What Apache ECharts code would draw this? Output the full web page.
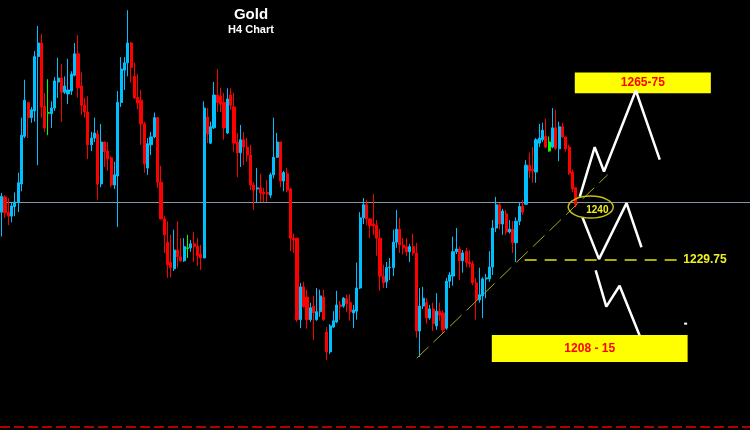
<!DOCTYPE html>
<html><head><meta charset="utf-8">
<script src="https://cdn.jsdelivr.net/npm/echarts@6/dist/echarts.min.js"></script>
<style>html,body{margin:0;padding:0;background:#000}#c{width:750px;height:430px}</style>
</head><body><div id="c"></div>
<script>
// H4 candles (price, USD/oz)
const opens = [1238.2,1240.9,1238.2,1237.5,1239.2,1240.0,1243.2,1251.6,1257.6,1254.9,1256.1,1265.7,1268.1,1256.9,1255.8,1255.6,1256.6,1261.2,1261.9,1259.4,1259.1,1259.6,1262.4,1266.2,1260.5,1257.1,1255.9,1250.1,1251.3,1252.0,1243.2,1250.6,1249.0,1247.8,1243.0,1244.6,1257.6,1263.3,1264.6,1268.1,1262.2,1258.5,1258.0,1253.8,1246.0,1250.1,1251.5,1254.9,1243.5,1237.0,1232.9,1229.3,1228.2,1231.5,1230.3,1229.6,1231.9,1231.9,1232.6,1232.2,1230.8,1230.1,1255.0,1250.4,1253.1,1258.9,1258.7,1257.6,1252.2,1258.9,1256.8,1250.6,1248.7,1251.0,1249.7,1248.3,1243.0,1242.3,1242.5,1241.7,1241.7,1241.2,1244.8,1247.9,1250.6,1243.7,1245.0,1242.3,1233.6,1233.6,1219.2,1225.0,1223.2,1219.2,1221.6,1219.2,1220.6,1223.2,1217.0,1213.5,1217.9,1218.8,1221.8,1221.6,1222.9,1222.2,1220.4,1220.7,1224.8,1237.2,1239.5,1237.0,1236.1,1235.9,1233.6,1226.9,1225.9,1228.4,1228.4,1232.9,1235.2,1232.4,1232.1,1231.2,1232.1,1231.0,1217.2,1221.6,1222.2,1219.5,1221.1,1218.1,1220.7,1220.4,1217.7,1226.0,1226.9,1231.2,1231.7,1229.6,1231.3,1229.4,1229.1,1225.7,1222.7,1223.4,1226.4,1226.4,1228.5,1235.4,1239.5,1236.1,1237.9,1234.7,1235.2,1232.8,1236.6,1239.2,1239.6,1246.5,1245.8,1245.3,1250.4,1251.0,1251.6,1250.6,1249.7,1253.1,1249.4,1253.3,1251.5,1249.7,1245.3,1242.5];
const closes = [1241.0,1238.1,1237.5,1239.3,1240.0,1243.4,1251.8,1258.0,1254.9,1256.3,1265.7,1268.1,1256.8,1253.1,1255.7,1256.6,1261.4,1261.9,1259.4,1260.5,1259.8,1262.6,1266.2,1260.2,1257.1,1255.9,1250.1,1251.3,1252.2,1243.2,1250.6,1248.9,1247.6,1243.0,1244.8,1257.6,1263.5,1264.6,1268.1,1263.8,1258.4,1257.5,1253.8,1246.7,1250.3,1251.5,1254.9,1243.5,1237.0,1234.2,1228.9,1228.4,1231.5,1230.3,1229.6,1232.1,1231.8,1232.6,1232.1,1230.5,1230.1,1256.6,1252.0,1253.3,1258.9,1257.6,1257.3,1253.1,1258.2,1257.1,1250.4,1248.7,1251.0,1249.7,1248.3,1243.0,1242.1,1242.5,1241.6,1241.4,1241.4,1244.8,1247.9,1250.6,1243.7,1245.2,1242.1,1233.6,1233.3,1219.2,1225.0,1221.5,1219.2,1221.3,1220.4,1220.6,1223.4,1219.2,1213.5,1218.1,1219.0,1221.8,1221.5,1223.0,1222.0,1220.6,1220.9,1224.8,1237.2,1239.5,1237.0,1235.8,1235.8,1233.6,1226.9,1225.7,1228.4,1228.5,1232.9,1235.2,1232.4,1231.9,1231.2,1232.1,1231.0,1217.2,1221.6,1223.0,1219.5,1221.1,1218.5,1220.7,1220.0,1217.4,1226.0,1227.1,1231.2,1231.7,1229.6,1231.0,1229.3,1229.1,1225.7,1222.7,1223.6,1226.4,1226.6,1228.5,1235.4,1239.5,1236.1,1238.4,1234.7,1235.2,1232.8,1236.6,1239.2,1238.2,1246.5,1245.5,1245.5,1251.0,1251.3,1252.7,1249.7,1249.0,1253.1,1249.5,1253.3,1251.5,1249.4,1245.1,1242.3,1239.6];
const lows = [1233.9,1237.2,1235.9,1236.4,1237.5,1238.2,1241.9,1251.3,1251.3,1254.0,1254.2,1246.5,1254.9,1252.4,1251.8,1253.1,1256.1,1258.4,1254.2,1259.1,1257.3,1258.9,1262.2,1258.5,1255.4,1254.9,1247.6,1249.0,1250.6,1240.4,1242.6,1246.2,1245.5,1242.6,1242.3,1235.6,1256.8,1259.8,1262.2,1261.1,1258.2,1256.4,1250.1,1245.2,1244.8,1248.3,1251.3,1242.5,1237.0,1231.0,1226.6,1226.7,1227.8,1228.4,1229.4,1229.4,1230.1,1231.2,1229.4,1228.7,1228.0,1230.1,1250.4,1250.3,1252.9,1255.9,1255.9,1251.0,1252.0,1256.3,1248.9,1244.4,1246.2,1246.5,1247.1,1242.1,1238.6,1239.8,1240.0,1240.0,1240.0,1240.7,1244.2,1247.8,1242.6,1241.9,1241.7,1231.3,1231.0,1218.8,1217.7,1221.3,1217.6,1218.8,1215.6,1219.0,1219.7,1219.0,1212.1,1213.1,1217.7,1218.6,1219.2,1221.3,1220.6,1219.0,1217.7,1219.2,1224.6,1236.1,1235.9,1233.6,1234.2,1230.5,1224.3,1224.8,1224.8,1226.2,1226.9,1231.9,1231.0,1230.7,1230.5,1229.4,1230.5,1216.0,1212.6,1221.1,1218.5,1219.2,1217.2,1217.4,1219.0,1216.9,1217.4,1224.8,1225.2,1230.8,1226.2,1227.5,1228.5,1228.4,1225.3,1219.2,1222.2,1219.5,1223.0,1225.9,1227.1,1234.7,1235.1,1234.2,1234.2,1234.4,1231.0,1229.4,1235.9,1237.7,1239.5,1244.2,1243.4,1243.4,1249.7,1250.6,1249.5,1248.9,1249.5,1249.2,1247.2,1251.3,1248.9,1244.8,1241.7,1239.1];
const highs = [1241.6,1241.2,1240.7,1240.0,1241.7,1245.2,1254.9,1261.6,1257.6,1256.8,1266.7,1271.1,1269.7,1259.3,1261.7,1257.8,1262.1,1265.5,1264.4,1262.2,1265.3,1263.1,1268.1,1269.5,1262.9,1258.4,1258.7,1252.4,1254.9,1252.7,1253.8,1250.6,1250.6,1248.1,1247.1,1259.6,1265.6,1265.6,1273.9,1268.3,1264.7,1262.6,1259.8,1254.2,1251.3,1252.4,1255.8,1254.9,1246.4,1237.5,1236.6,1234.2,1235.1,1236.6,1233.6,1233.6,1234.2,1233.3,1234.7,1233.6,1232.4,1257.8,1256.6,1254.2,1261.2,1263.5,1260.2,1259.3,1260.1,1260.1,1259.3,1252.2,1253.6,1252.4,1251.3,1250.1,1243.5,1246.0,1245.0,1242.5,1243.9,1245.2,1254.9,1252.2,1250.6,1245.5,1246.0,1242.5,1234.4,1233.6,1225.7,1225.9,1224.5,1222.2,1223.4,1224.8,1224.5,1224.5,1217.9,1218.4,1220.7,1224.3,1222.5,1223.2,1223.6,1223.7,1221.8,1229.3,1238.2,1240.7,1240.4,1237.2,1241.4,1236.8,1235.2,1228.9,1229.4,1230.1,1235.1,1238.6,1237.2,1233.6,1233.6,1232.6,1234.4,1232.8,1224.8,1225.0,1223.0,1221.8,1222.2,1223.9,1222.2,1220.9,1226.6,1227.6,1233.9,1235.4,1232.1,1231.5,1231.9,1231.5,1229.6,1226.6,1228.4,1226.7,1227.3,1231.3,1236.8,1240.9,1239.8,1238.8,1238.6,1236.8,1236.6,1237.3,1240.0,1240.4,1247.4,1248.7,1249.7,1251.3,1253.8,1254.0,1254.7,1251.6,1256.6,1256.3,1254.2,1254.0,1251.5,1250.1,1245.7,1242.6];
const dojiIdx = [14, 56, 165];           // green (unchanged) bars
const slotCount = 226;                   // bar slots across the chart width
const categories = Array.from({length: slotCount}, (_, i) => 'B' + i);

// Levels / annotations
const pivotLevel = 1240;
const supportLevel = 1229.75;
const floorLevel = 1200.2;
const upperPath = [[174.2,1240.9],[178.7,1249.7],[181.5,1245.4],[191.1,1259.7],[198.3,1247.5]];
const middlePath = [[175.0,1237.3],[180.0,1229.9],[188.3,1239.8],[192.8,1232.0]];
const lowerPath = [[179.0,1227.9],[182.2,1221.5],[186.2,1225.2],[192.3,1216.3]];
const trendPath = [[125.1,1212.4],[182.6,1244.8]];
const supportSpan = [157.6, 203.7];
const targetUp = {label:'1265-75', x:[172.7,213.7], y:[1262.9,1259.2]};
const targetDown = {label:'1208 - 15', x:[147.7,206.7], y:[1216.5,1211.7]};

const candles = opens.map((o, i) => {
  const v = [o, closes[i], lows[i], highs[i]];
  if (dojiIdx.includes(i)) {
    return {value: v, itemStyle: {color:'#00ff00', color0:'#00ff00', borderColor:'#00ff00', borderColor0:'#00ff00'}};
  }
  return v;
});

const FONT = 'Liberation Sans, Arial, sans-serif';
const chart = echarts.init(document.getElementById('c'), null, {renderer:'canvas'});
const boxLabel = {show:true, position:'inside', color:'#ff0000', fontWeight:'bold', fontSize:12, fontFamily:FONT};
chart.setOption({
  backgroundColor:'#000000',
  animation:false,
  title:{text:'Gold', subtext:'H4 Chart', left:246, top:2, textAlign:'center', itemGap:2,
    textStyle:{color:'#ffffff', fontSize:15, fontWeight:'bold', fontFamily:FONT},
    subtextStyle:{color:'#ffffff', fontSize:11, fontWeight:'bold', fontFamily:FONT}},
  grid:{left:0, right:0, top:0, bottom:0},
  xAxis:[
    {type:'category', data:categories, boundaryGap:true, show:false},
    {type:'value', min:-0.5, max:slotCount-0.5, show:false}
  ],
  yAxis:{type:'value', min:1199.7, max:1275.7, show:false, splitLine:{show:false}},
  series:[
    {type:'candlestick', xAxisIndex:0, data:candles, barWidth:2.6,
      itemStyle:{color:'#00bfff', color0:'#ff0000', borderColor:'#00bfff', borderColor0:'#ff0000', borderWidth:1},
      markLine:{silent:true, symbol:'none', label:{show:false}, z:1,
        data:[
          {yAxis:pivotLevel, lineStyle:{color:'#8797aa', width:1, type:'solid'}},
          {yAxis:floorLevel, lineStyle:{color:'#b00000', width:2, type:[10,4]}}
        ]}
    },
    {type:'line', xAxisIndex:1, data:trendPath, symbol:'none', z:3,
      lineStyle:{color:'#a8a820', width:1, type:[16,7]}},
    {type:'line', xAxisIndex:1, data:supportSpan.map(x => [x, supportLevel]), symbol:'none', z:3,
      lineStyle:{color:'#e6e600', width:1.5, type:[12,8]}},
    {type:'line', xAxisIndex:1, data:upperPath, symbol:'none', z:4,
      lineStyle:{color:'#ffffff', width:2.5},
      markArea:{silent:true, z:2,
        data:[
          [{coord:[targetUp.x[0], targetUp.y[0]], name:targetUp.label, itemStyle:{color:'#ffff00', opacity:1}, label:boxLabel},
           {coord:[targetUp.x[1], targetUp.y[1]]}],
          [{coord:[targetDown.x[0], targetDown.y[0]], name:targetDown.label, itemStyle:{color:'#ffff00', opacity:1}, label:boxLabel},
           {coord:[targetDown.x[1], targetDown.y[1]]}]
        ]}
    },
    {type:'line', xAxisIndex:1, data:middlePath, symbol:'none', z:4, lineStyle:{color:'#ffffff', width:2.5}},
    {type:'line', xAxisIndex:1, data:lowerPath, symbol:'none', z:4, lineStyle:{color:'#ffffff', width:2.5}}
  ]
});

const px = (x, y) => chart.convertToPixel({xAxisIndex:1, yAxisIndex:0}, [x, y]);
const ec = px(177.5, 1239.1);
const t1240 = px(179.5, 1238.6);
const tSup = px(205.4, supportLevel);
const dot = px(206.1, 1218.5);
chart.setOption({graphic:[
  {type:'ellipse', shape:{cx:ec[0], cy:ec[1], rx:22.5, ry:11}, style:{fill:'transparent', stroke:'#c8c010', lineWidth:1.5}, z:10},
  {type:'text', x:t1240[0], y:t1240[1], style:{text:'1240', fill:'#f0f020', font:'bold 10px ' + FONT, align:'center', verticalAlign:'middle'}, z:11},
  {type:'text', x:tSup[0], y:tSup[1], style:{text:'1229.75', fill:'#f0f020', font:'bold 12px ' + FONT, align:'left', verticalAlign:'middle'}, z:11},
  {type:'rect', shape:{x:dot[0]-1.5, y:dot[1]-1, width:3, height:2}, style:{fill:'#ffffff'}, z:11}
]});
</script>
</body></html>
